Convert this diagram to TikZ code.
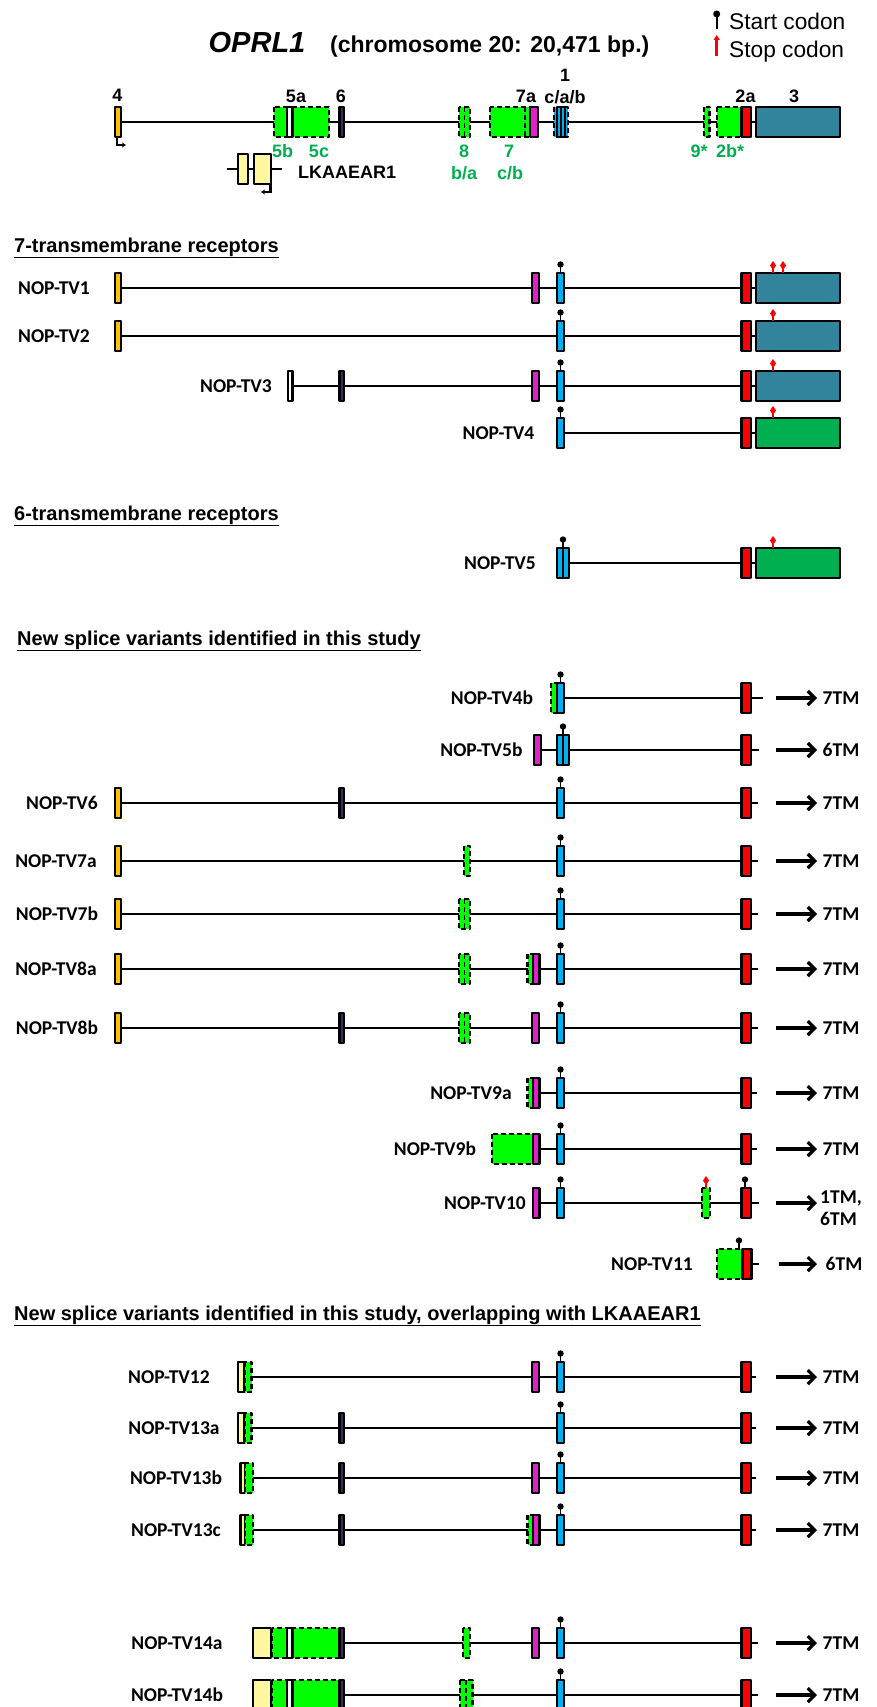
\documentclass[tikz,border=0pt]{standalone}
\usepackage{fontspec}
\setmainfont{Liberation Sans}
\newfontfamily\calfont{Carlito}
\usetikzlibrary{arrows.meta}
\definecolor{gold}{HTML}{FFC000}
\definecolor{dpurp}{HTML}{3D2A56}
\definecolor{mag}{HTML}{E020C8}
\definecolor{cyanx}{HTML}{00B0F0}
\definecolor{tealx}{HTML}{31849B}
\definecolor{gdark}{HTML}{00B050}
\definecolor{gbright}{HTML}{00FF00}
\definecolor{yel}{HTML}{FFF8A0}
\definecolor{redx}{HTML}{FF0000}
\tikzset{
  intron/.style={line width=2.8pt, black},
  exb/.style={draw=black, line width=2.4pt, line join=round},
  dsh/.style={dash pattern=on 5pt off 3pt},
  nlab/.style={font=\calfont\bfseries\fontsize{19.5}{22}\selectfont, anchor=base},
  glab/.style={font=\bfseries\fontsize{18}{20}\selectfont, anchor=base},
  hlab/.style={font=\bfseries\fontsize{20}{24}\selectfont, anchor=base west},
  tmarr/.style={line width=3.2pt, -{Straight Barb[length=7pt,width=14pt]}},
  every node/.style={inner sep=0pt}
}
% box: [opts]{x1}{x2}{y}{fill}
\newcommand\bx[5][]{\filldraw[exb,fill=#5,#1] (#2,#4-15) rectangle (#3,#4+15);}
\newcommand\stc[2]{\draw[line width=1.8pt] (#1,#2-15) -- (#1,#2-21); \fill (#1,#2-23.5) circle[radius=3.2pt];}
\newcommand\spc[2]{\draw[redx,line width=1.6pt] (#1,#2-15) -- (#1,#2-19); \fill[redx] (#1,#2-27) -- (#1+3,#2-22.5) -- (#1,#2-18) -- (#1-3,#2-22.5) -- cycle;}
\newcommand\idl[2]{\draw[dsh,line width=1.5pt] (#1,#2-15) -- (#1,#2+15);}
\newcommand\eightw[1]{\bx[dsh]{459}{470}{#1}{gbright}\idl{464.5}{#1}}
\newcommand\eightn[1]{\bx[dsh]{464}{470}{#1}{gbright}}
\newcommand\exfour[1]{\bx{115}{121}{#1}{gold}}
\newcommand\exsix[1]{\bx{339.5}{344}{#1}{dpurp}}
\newcommand\exmag[1]{\bx{532}{539}{#1}{mag}}
\newcommand\gmag[1]{\bx[dsh]{527.5}{533}{#1}{gbright}\bx{533}{539.5}{#1}{mag}}
\newcommand\exone[1]{\bx{557}{564}{#1}{cyanx}\stc{560.5}{#1}}
\newcommand\exoned[1]{\bx{557}{569}{#1}{cyanx}\draw[line width=1.5pt] (563,#1-15) -- (563,#1+15);\stc{563}{#1}}
\newcommand\exred[1]{\bx{741.5}{751}{#1}{redx}}
\newcommand\tmar[2]{\draw[tmarr] (776,#1) -- (817,#1); \node[nlab] at (841,#1+6.5) {#2};}
\begin{document}
\begin{tikzpicture}[x=1pt,y=-1pt]
\useasboundingbox (0,0) rectangle (877,1707);
\fill[white] (0,0) rectangle (877,1707);

% ---------- title and legend
\node[font=\bfseries\itshape\fontsize{29}{32}\selectfont, anchor=base] (title) at (257,53) {OPRL1};
\node[font=\bfseries\fontsize{23}{26}\selectfont, anchor=base west] (chrom) at (330,53) {(chromosome 20: 20,471 bp.)};
\draw[line width=2.2pt] (716.7,29) -- (716.7,16);
\fill (716.7,14) circle[radius=3.5pt];
\draw[redx, line width=2.5pt, -{Triangle[length=5pt,width=6pt]}] (716.7,56) -- (716.7,35);
\node[font=\fontsize{22.7}{26}\selectfont, anchor=base west] (lstart) at (729,30) {Start codon};
\node[font=\fontsize{22.7}{26}\selectfont, anchor=base west] (lstop) at (729,57.5) {Stop codon};

% ---------- gene map
\draw[intron] (118,122) -- (756,122);
\bx{115}{121}{122}{gold}
\draw[line width=2.2pt, -{Stealth[length=4pt,width=5pt]}] (117,137) -- (117,145) -- (126,145);
\bx[dsh]{274}{287}{122}{gbright}
\bx[dsh]{293}{329}{122}{gbright}
\bx{287}{292.5}{122}{white}
\exsix{122}
\bx[dsh]{459}{470}{122}{gbright}\idl{464.5}{122}
\bx[dsh]{490}{530}{122}{gbright}\idl{525}{122}
\bx{530}{538}{122}{mag}
\bx[dsh]{554}{568}{122}{cyanx}
\bx{557}{565}{122}{cyanx}
\draw[line width=1.2pt] (561,107) -- (561,137);
\bx[dsh]{704}{709.5}{122}{gbright}
\bx[dsh]{717}{741.5}{122}{gbright}
\bx{741.5}{751}{122}{redx}
\bx{756}{840}{122}{tealx}
% LKAAEAR1
\draw[intron] (227,169) -- (282,169);
\filldraw[exb,fill=yel] (238,154) rectangle (248,184);
\filldraw[exb,fill=yel] (254,154) rectangle (271,184);
\draw[line width=2.2pt, -{Stealth[length=4pt,width=5pt]}] (270.5,184) -- (270.5,192) -- (261,192);
\node[glab, anchor=base west] (lk) at (298,178.5) {LKAAEAR1};
% labels
\node[glab] (l4) at (117.5,101.5) {4};
\node[glab] (l5a) at (296,103) {5a};
\node[glab] (l6) at (341,103) {6};
\node[glab] (l7a) at (526,103) {7a};
\node[glab] (l1) at (565,81.5) {1};
\node[glab] (l1b) at (565,103.5) {c/a/b};
\node[glab] (l2a) at (745.5,103) {2a};
\node[glab] (l3) at (794,103) {3};
\begin{scope}[every node/.append style={text=gdark}]
\node[glab] (l5b) at (282.5,158) {5b};
\node[glab] (l5c) at (319,158) {5c};
\node[glab] (l8) at (464,158) {8};
\node[glab] (l8b) at (464,179.5) {b/a};
\node[glab] (l7) at (509,158) {7};
\node[glab] (l7b) at (510,179.5) {c/b};
\node[glab] (l9) at (699,158) {9*};
\node[glab] (l2b) at (730,158) {2b*};
\end{scope}

% ---------- 7TM receptors
\node[hlab] (h1) at (14,252) {\underline{7-transmembrane receptors}};
% TV1
\draw[intron] (118,288) -- (756,288);
\exfour{288}\exmag{288}\exone{288}\exred{288}\bx{756}{840}{288}{tealx}
\spc{773}{288}\spc{783}{288}
\node[nlab] (tv1) at (54,294.5) {NOP-TV1};
% TV2
\draw[intron] (118,336) -- (756,336);
\exfour{336}\exone{336}\exred{336}\bx{756}{840}{336}{tealx}
\spc{773}{336}
\node[nlab] (tv2) at (54,342.5) {NOP-TV2};
% TV3
\draw[intron] (290,386) -- (756,386);
\bx{288}{292.5}{386}{white}\exsix{386}\exmag{386}\exone{386}\exred{386}\bx{756}{840}{386}{tealx}
\spc{773}{386}
\node[nlab] (tv3) at (236,392.5) {NOP-TV3};
% TV4
\draw[intron] (560,433) -- (756,433);
\exone{433}\exred{433}\bx{756}{840}{433}{gdark}
\spc{773}{433}
\node[nlab] (tv4) at (498.5,439.5) {NOP-TV4};

% ---------- 6TM
\node[hlab] (h2) at (14,520) {\underline{6-transmembrane receptors}};
\draw[intron] (563,563) -- (756,563);
\exoned{563}\exred{563}\bx{756}{840}{563}{gdark}
\spc{773}{563}
\node[nlab] (tv5) at (500,569.5) {NOP-TV5};

% ---------- new splice variants
\node[hlab] (h3) at (17,645) {\underline{New splice variants identified in this study}};
% TV4b
\draw[intron] (560,698) -- (763,698);
\bx[dsh]{551}{557}{698}{gbright}\exone{698}\exred{698}
\tmar{698}{7TM}
\node[nlab] (tv4b) at (492,704.5) {NOP-TV4b};
% TV5b
\draw[intron] (537,750) -- (759,750);
\bx{534}{541}{750}{mag}\exoned{750}\exred{750}
\tmar{750}{6TM}
\node[nlab] (tv5b) at (481.5,756.5) {NOP-TV5b};
% TV6
\draw[intron] (118,803) -- (758,803);
\exfour{803}\exsix{803}\exone{803}\exred{803}
\tmar{803}{7TM}
\node[nlab] (tv6) at (62,809.5) {NOP-TV6};
% TV7a
\draw[intron] (118,861) -- (758,861);
\exfour{861}\eightn{861}\exone{861}\exred{861}
\tmar{861}{7TM}
\node[nlab] (tv7a) at (56,867.5) {NOP-TV7a};
% TV7b
\draw[intron] (118,914) -- (758,914);
\exfour{914}\eightw{914}\exone{914}\exred{914}
\tmar{914}{7TM}
\node[nlab] (tv7b) at (57,920.5) {NOP-TV7b};
% TV8a
\draw[intron] (118,969) -- (758,969);
\exfour{969}\eightw{969}\gmag{969}\exone{969}\exred{969}
\tmar{969}{7TM}
\node[nlab] (tv8a) at (56,975.5) {NOP-TV8a};
% TV8b
\draw[intron] (118,1028) -- (758,1028);
\exfour{1028}\exsix{1028}\eightw{1028}\exmag{1028}\exone{1028}\exred{1028}
\tmar{1028}{7TM}
\node[nlab] (tv8b) at (57,1034.5) {NOP-TV8b};
% TV9a
\draw[intron] (535,1093) -- (757,1093);
\gmag{1093}\exone{1093}\exred{1093}
\tmar{1093}{7TM}
\node[nlab] (tv9a) at (471,1099.5) {NOP-TV9a};
% TV9b
\draw[intron] (535,1149) -- (757,1149);
\bx[dsh]{492}{533}{1149}{gbright}\bx{533}{539.5}{1149}{mag}\exone{1149}\exred{1149}
\tmar{1149}{7TM}
\node[nlab] (tv9b) at (435,1155.5) {NOP-TV9b};
% TV10
\draw[intron] (535,1203) -- (759,1203);
\bx{533}{539.5}{1203}{mag}\exone{1203}
\bx[dsh]{702}{710}{1203}{gbright}\spc{706}{1203}
\exred{1203}\stc{745}{1203}
\draw[tmarr] (776,1203) -- (817,1203);
\node[nlab, anchor=base west] (tv10a) at (820,1203.5) {1TM,};
\node[nlab, anchor=base west] (tv10b) at (820,1225) {6TM};
\node[nlab] (tv10) at (485,1209.5) {NOP-TV10};
% TV11
\draw[intron] (745,1264) -- (759,1264);
\bx[dsh]{717}{742.5}{1264}{gbright}\bx{742.5}{751.5}{1264}{redx}\stc{739}{1264}
\draw[tmarr] (779,1264) -- (817,1264);
\node[nlab] (tv11t) at (844,1270.5) {6TM};
\node[nlab] (tv11) at (652,1270.5) {NOP-TV11};

% ---------- overlapping with LKAAEAR1
\node[hlab] (h4) at (14,1320) {\underline{New splice variants identified in this study, overlapping with LKAAEAR1}};
% TV12
\draw[intron] (251,1377) -- (756,1377);
\bx{238}{244.5}{1377}{yel}\bx[dsh]{244.5}{251.5}{1377}{gbright}
\exmag{1377}\exone{1377}\exred{1377}
\tmar{1377}{7TM}
\node[nlab] (tv12) at (169,1383.5) {NOP-TV12};
% TV13a
\draw[intron] (251,1428) -- (756,1428);
\bx{238}{244.5}{1428}{yel}\bx[dsh]{244.5}{251.5}{1428}{gbright}
\exsix{1428}\exone{1428}\exred{1428}
\tmar{1428}{7TM}
\node[nlab] (tv13a) at (174,1434.5) {NOP-TV13a};
% TV13b
\draw[intron] (252,1478) -- (756,1478);
\bx{240.5}{245}{1478}{yel}\bx[dsh]{245}{253}{1478}{gbright}
\exsix{1478}\exmag{1478}\exone{1478}\exred{1478}
\tmar{1478}{7TM}
\node[nlab] (tv13b) at (176,1484.5) {NOP-TV13b};
% TV13c
\draw[intron] (252,1530) -- (756,1530);
\bx{240.5}{245}{1530}{yel}\bx[dsh]{245}{253}{1530}{gbright}
\exsix{1530}\gmag{1530}\exone{1530}\exred{1530}
\tmar{1530}{7TM}
\node[nlab] (tv13c) at (176,1536.5) {NOP-TV13c};
% TV14a
\draw[intron] (342,1643) -- (758,1643);
\bx{253}{271}{1643}{yel}\bx[dsh]{272}{287}{1643}{gbright}\bx[dsh]{292.5}{340}{1643}{gbright}\bx{287}{292.5}{1643}{white}
\exsix{1643}\bx[dsh]{463}{470}{1643}{gbright}\exmag{1643}\exone{1643}\exred{1643}
\tmar{1643}{7TM}
\node[nlab] (tv14a) at (177,1649.5) {NOP-TV14a};
% TV14b
\draw[intron] (342,1695) -- (758,1695);
\bx{253}{271}{1695}{yel}\bx[dsh]{272}{287}{1695}{gbright}\bx[dsh]{292.5}{340}{1695}{gbright}\bx{287}{292.5}{1695}{white}
\exsix{1695}\bx[dsh]{460}{472.5}{1695}{gbright}\idl{466}{1695}\exone{1695}\exred{1695}
\tmar{1695}{7TM}
\node[nlab] (tv14b) at (177,1701.5) {NOP-TV14b};
\end{tikzpicture}
\end{document}
